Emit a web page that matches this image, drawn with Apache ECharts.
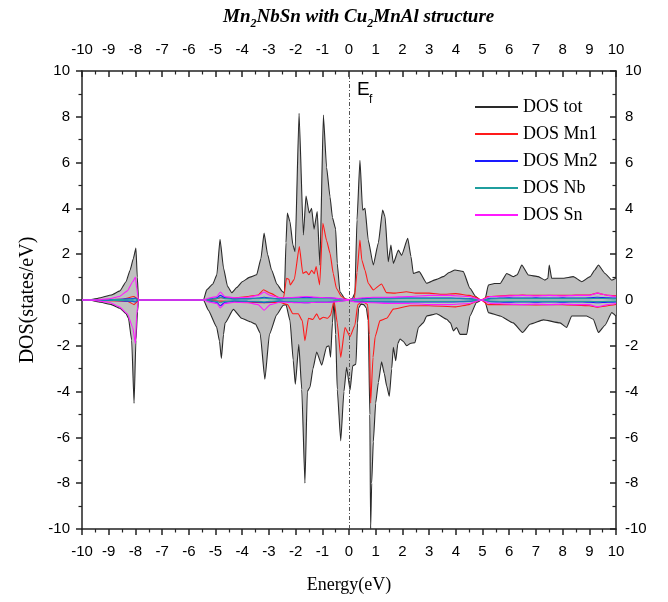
<!DOCTYPE html>
<html>
<head>
<meta charset="utf-8">
<script src="https://cdn.jsdelivr.net/npm/echarts@6/dist/echarts.min.js"></script>
<style>
  html, body { margin: 0; padding: 0; background: #fff; }
  #chart { width: 668px; height: 602px; }
</style>
</head>
<body>
<div id="chart"></div>
<script>
// total DOS, [energy (eV), states/eV], spin up above zero, spin down below
const totUp = [[-10,0],[-9.72,0],[-9.3,0.1],[-8.9,0.22],[-8.58,0.4],[-8.35,0.8],[-8.2,1.3],[-8.08,1.8],[-7.98,2.27],[-7.93,1.0],[-7.88,0],
  [-5.45,0],[-5.33,0.44],[-5.1,0.7],[-4.95,1.1],[-4.83,2.65],[-4.7,1.4],[-4.55,0.6],[-4.39,0.32],[-4.2,0.55],[-4.0,0.8],[-3.71,1.0],[-3.46,1.1],[-3.3,1.8],[-3.18,2.92],[-3.05,2.0],[-2.9,1.31],[-2.7,0.7],[-2.5,0.38],[-2.42,0.3],
  [-2.36,2.5],[-2.31,3.8],[-2.21,3.42],[-2.1,2.4],[-2.02,2.11],[-1.87,8.15],[-1.71,2.84],[-1.61,4.54],[-1.49,3.8],[-1.4,4.0],[-1.31,3.09],[-1.19,3.86],[-1.09,1.53],[-0.96,8.08],[-0.84,5.8],[-0.71,4.5],[-0.62,3.6],[-0.5,3.1],[-0.44,1.6],[-0.34,0.36],[-0.15,0.05],[0,0.02],
  [0.12,0.05],[0.22,0.3],[0.3,3.5],[0.41,6.1],[0.51,3.93],[0.6,4.0],[0.72,2.62],[0.91,1.53],[1.1,2.5],[1.26,3.93],[1.35,3.64],[1.47,1.67],[1.57,2.4],[1.66,1.6],[1.85,2.18],[1.97,1.95],[2.2,2.69],[2.32,1.9],[2.41,1.16],[2.63,1.24],[2.91,0.73],[3.28,0.9],[3.53,1.02],[3.75,1.2],[3.97,1.31],[4.28,1.24],[4.53,0.51],[4.75,0.15],[4.91,0],
  [5.09,0],[5.22,0.65],[5.45,0.72],[5.66,0.72],[5.91,1.16],[6.15,1.02],[6.3,1.1],[6.47,1.53],[6.72,1.09],[7.09,1.02],[7.34,0.87],[7.45,0.95],[7.5,1.53],[7.59,0.95],[8.03,0.95],[8.4,1.02],[8.72,0.8],[9.03,1.02],[9.2,1.3],[9.34,1.53],[9.59,1.16],[9.84,0.87],[10,0.95]];

const totDown = [[-10,0],[-9.72,0],[-9.3,-0.1],[-8.9,-0.2],[-8.58,-0.36],[-8.35,-0.6],[-8.26,-0.8],[-8.14,-1.75],[-8.05,-4.51],[-7.98,-1.75],[-7.92,-0.5],[-7.88,0],
  [-5.45,0],[-5.27,-0.44],[-4.96,-1.17],[-4.85,-1.8],[-4.78,-2.55],[-4.7,-1.5],[-4.64,-1.0],[-4.33,-0.41],[-4.02,-0.8],[-3.7,-0.95],[-3.5,-1.05],[-3.33,-1.44],[-3.15,-3.46],[-2.98,-1.5],[-2.71,-0.65],[-2.46,-0.23],[-2.36,-0.2],
  [-2.21,-0.9],[-2.09,-2.62],[-2.01,-3.68],[-1.88,-1.95],[-1.77,-3.9],[-1.65,-8.0],[-1.56,-4.0],[-1.46,-3.8],[-1.35,-3.0],[-1.21,-2.27],[-1.02,-2.85],[-0.84,-2.04],[-0.75,-2.0],[-0.69,-2.5],[-0.62,-1.0],[-0.56,-0.05],[-0.5,-1.5],[-0.44,-3.9],[-0.31,-6.15],[-0.19,-4.0],[-0.09,-2.94],
  [0.04,-3.93],[0.14,-2.87],[0.26,-2.8],[0.32,-1.0],[0.36,-0.35],[0.45,-0.18],[0.55,-0.2],[0.65,-0.35],[0.72,-0.9],[0.78,-5.0],[0.81,-10],[0.85,-8.0],[0.91,-6.2],[1.0,-4.5],[1.1,-3.6],[1.22,-2.7],[1.32,-3.2],[1.41,-3.75],[1.51,-4.2],[1.6,-3.0],[1.66,-2.07],[1.75,-2.65],[1.83,-1.9],[1.91,-1.7],
  [2.03,-1.8],[2.16,-2.0],[2.3,-1.9],[2.47,-1.86],[2.6,-1.2],[2.78,-1.0],[2.91,-0.7],[3.28,-0.6],[3.66,-0.84],[3.8,-1.0],[3.91,-1.35],[4.03,-1.2],[4.16,-1.5],[4.41,-1.5],[4.53,-0.7],[4.78,-0.1],[4.97,0],
  [5.1,-0.1],[5.22,-0.55],[5.66,-0.7],[6.15,-1.0],[6.5,-1.42],[6.78,-1.06],[7.28,-0.87],[7.9,-1.0],[8.15,-1.2],[8.34,-0.7],[8.9,-0.7],[9.15,-0.84],[9.34,-1.42],[9.59,-1.1],[9.84,-0.55],[10,-0.7]];

// Mn1 partial DOS
const mn1Up = [[-10,0],[-8.5,0.03],[-8.05,0.15],[-7.95,0.08],[-7.88,0],[-5.45,0],[-5.0,0.05],[-4.8,0.1],[-4.3,0.08],[-3.8,0.15],[-3.4,0.22],[-3.2,0.45],[-2.95,0.3],[-2.6,0.1],[-2.45,0.1],
  [-2.34,0.95],[-2.25,0.9],[-2.2,0.66],[-2.05,0.9],[-1.86,2.33],[-1.73,1.16],[-1.6,1.24],[-1.5,1.1],[-1.4,1.3],[-1.3,1.15],[-1.23,1.46],[-1.1,0.66],[-0.98,3.35],[-0.84,2.6],[-0.71,2.04],[-0.59,1.16],[-0.47,0.5],[-0.28,0.15],[-0.1,0.02],
  [0.2,0.05],[0.3,1.2],[0.41,2.62],[0.48,1.75],[0.6,1.3],[0.72,0.73],[0.91,0.44],[1.22,0.7],[1.4,0.32],[1.7,0.3],[2.15,0.36],[2.5,0.3],[3.0,0.3],[3.5,0.25],[4.0,0.28],[4.5,0.2],[4.8,0.1],[4.95,0],
  [5.2,0.15],[6,0.2],[6.5,0.22],[7,0.2],[7.5,0.2],[8,0.2],[8.5,0.22],[9,0.22],[9.3,0.3],[9.7,0.2],[10,0.18]];

const mn1Down = [[-10,0],[-8.3,-0.05],[-8.05,-0.2],[-7.95,-0.1],[-7.88,0],[-5.45,0],[-4.8,-0.05],[-3.2,-0.12],[-2.6,-0.1],[-2.3,-0.2],[-2.1,-0.6],[-1.9,-0.6],[-1.75,-0.9],[-1.65,-1.78],[-1.52,-0.8],[-1.35,-0.85],[-1.21,-0.6],[-1.1,-0.85],[-0.96,-0.75],[-0.8,-0.8],[-0.69,-0.66],[-0.56,-0.02],
  [-0.44,-1.0],[-0.31,-2.5],[-0.15,-1.2],[0.04,-1.6],[0.22,-1.1],[0.33,-0.2],[0.5,-0.05],[0.7,-0.2],[0.76,-1.5],[0.81,-4.5],[0.9,-2.5],[0.98,-1.6],[1.16,-0.9],[1.41,-0.8],[1.66,-0.4],[2.28,-0.25],[3,-0.25],[4,-0.3],[4.5,-0.2],[4.8,-0.05],[4.95,0],
  [5.2,-0.2],[6,-0.2],[7,-0.22],[8,-0.2],[9,-0.25],[9.3,-0.32],[9.7,-0.25],[10,-0.2]];

// smaller partials share one energy grid
const compE = [-10,-9.7,-9.0,-8.6,-8.3, -8.1,-8.0,-7.95,-7.88,-5.45, -5.2,-4.95,-4.82,-4.65,-4.3, -3.8,-3.4,-3.18,-2.95,-2.6,
  -2.3,-2.0,-1.6,-1.2,-0.8, -0.5,-0.2,0.0,0.2,0.5, 0.9,1.5,2.2,3.0,3.8, 4.5,4.95,5.3,6.0,6.5, 7.0,7.5,8.0,8.5,9.0, 9.3,9.7,10];
const mn2Up = [0,0,0.02,0.03,0.05, 0.06,0.08,0.04,0,0, 0.05,0.1,0.2,0.1,0.05, 0.06,0.08,0.12,0.08,0.05,
  0.08,0.1,0.12,0.1,0.1, 0.06,0.03,0.02,0.05,0.06, 0.08,0.08,0.08,0.08,0.08, 0.06,0,0.07,0.1,0.08, 0.1,0.08,0.1,0.08,0.1, 0.12,0.1,0.08];
const mn2Down = [0,0,-0.02,-0.03,-0.05, -0.06,-0.08,-0.04,0,0, -0.05,-0.1,-0.25,-0.1,-0.05, -0.06,-0.08,-0.12,-0.08,-0.05,
  -0.08,-0.1,-0.12,-0.1,-0.1, -0.06,-0.03,-0.02,-0.06,-0.08, -0.08,-0.08,-0.08,-0.08,-0.08, -0.06,0,-0.07,-0.1,-0.08, -0.1,-0.08,-0.1,-0.08,-0.1, -0.12,-0.1,-0.08];
const nbUp = [0,0,0.01,0.02,0.03, 0.04,0.05,0.03,0,0, 0.04,0.06,0.12,0.06,0.04, 0.05,0.06,0.08,0.06,0.04,
  0.05,0.05,0.05,0.05,0.05, 0.04,0.02,0.01,0.03,0.04, 0.05,0.05,0.06,0.06,0.06, 0.05,0,0.05,0.06,0.06, 0.06,0.06,0.06,0.06,0.06, 0.07,0.06,0.05];
const nbDown = [0,0,-0.01,-0.02,-0.03, -0.04,-0.05,-0.03,0,0, -0.04,-0.06,-0.12,-0.06,-0.04, -0.05,-0.06,-0.08,-0.06,-0.04,
  -0.05,-0.05,-0.05,-0.05,-0.05, -0.04,-0.02,-0.01,-0.03,-0.04, -0.05,-0.05,-0.06,-0.06,-0.06, -0.05,0,-0.05,-0.06,-0.06, -0.06,-0.06,-0.06,-0.06,-0.06, -0.07,-0.06,-0.05];
const snUp = [0,0,0.05,0.15,0.4, 0.8,1.0,0.5,0,0, 0.1,0.15,0.35,0.15,0.1, 0.12,0.2,0.35,0.2,0.1,
  0.1,0.12,0.15,0.12,0.1, 0.08,0.03,0.02,0.05,0.1, 0.12,0.12,0.15,0.2,0.2, 0.15,0,0.15,0.18,0.2, 0.18,0.2,0.18,0.2,0.2, 0.3,0.2,0.15];
const snDown = [0,0,-0.1,-0.3,-0.6, -1.2,-1.9,-0.6,0,0, -0.1,-0.15,-0.35,-0.15,-0.1, -0.12,-0.2,-0.45,-0.2,-0.1,
  -0.1,-0.12,-0.12,-0.1,-0.1, -0.08,-0.03,-0.02,-0.08,-0.1, -0.12,-0.15,-0.15,-0.2,-0.2, -0.15,0,-0.15,-0.18,-0.2, -0.18,-0.2,-0.18,-0.2,-0.2, -0.3,-0.2,-0.15];

const legendNames = ['DOS tot', 'DOS Mn1', 'DOS Mn2', 'DOS Nb', 'DOS Sn'];
const colors = ['#2a2a2a', '#ff1a1a', '#1a1aff', '#1f9e9e', '#ff1aff'];

function zip(e, d) {
  return e.map((x, i) => [x, d[i]]);
}

function dosLine(name, data, color, area) {
  let s = {
    name: name,
    type: 'line',
    data: data,
    showSymbol: false,
    smooth: 0.15,
    smoothMonotone: 'x',
    color: color,
    lineStyle: { color: color, width: 1.1 },
    silent: true,
    animation: false
  };
  if (area) {
    s.areaStyle = { color: '#c0c0c0', opacity: 1 };
  }
  return s;
}

function frameAxis(pos, inside) {
  return {
    type: 'value',
    position: pos,
    min: -10,
    max: 10,
    axisLine: { show: true, onZero: false, lineStyle: { color: '#222', width: 1.5 } },
    axisTick: { show: true, inside: inside, length: 6, lineStyle: { color: '#222', width: 1.5 } },
    minorTick: { show: true, splitNumber: 2, length: 3.5, lineStyle: { color: '#222', width: 1.2 } },
    axisLabel: { fontFamily: 'Liberation Sans', fontSize: 15, color: '#000', margin: 12 },
    splitLine: { show: false }
  };
}

const chart = echarts.init(document.getElementById('chart'));

let xBottom = frameAxis('bottom', false);
xBottom.interval = 1;
xBottom.axisLabel.margin = 15;
xBottom.name = 'Energy(eV)';
xBottom.nameLocation = 'middle';
xBottom.nameGap = 47;
xBottom.nameTextStyle = { fontFamily: 'Liberation Serif', fontSize: 18, color: '#000' };
let xTop = frameAxis('top', true);
xTop.interval = 1;
xTop.axisLabel.margin = 14;

let yLeft = frameAxis('left', false);
yLeft.interval = 2;
yLeft.name = 'DOS(states/eV)';
yLeft.nameLocation = 'middle';
yLeft.nameGap = 43;
yLeft.nameTextStyle = { fontFamily: 'Liberation Serif', fontSize: 20, color: '#000' };
let yRight = frameAxis('right', true);
yRight.interval = 2;
yRight.axisLabel.margin = 9;

let series = [
  dosLine('DOS tot', totUp, colors[0], true),
  dosLine('DOS tot', totDown, colors[0], true),
  dosLine('DOS Mn1', mn1Up, colors[1]),
  dosLine('DOS Mn1', mn1Down, colors[1]),
  dosLine('DOS Mn2', zip(compE, mn2Up), colors[2]),
  dosLine('DOS Mn2', zip(compE, mn2Down), colors[2]),
  dosLine('DOS Nb', zip(compE, nbUp), colors[3]),
  dosLine('DOS Nb', zip(compE, nbDown), colors[3]),
  dosLine('DOS Sn', zip(compE, snUp), colors[4]),
  dosLine('DOS Sn', zip(compE, snDown), colors[4])
];

// Fermi level
series[1].markLine = {
  silent: true,
  symbol: 'none',
  label: { show: false },
  lineStyle: { color: '#555', width: 1, type: [4, 2, 1, 2] },
  data: [{ xAxis: 0 }]
};

const option = {
  backgroundColor: '#fff',
  animation: false,
  title: {
    text: '{a|Mn}{s|2}{a|NbSn with Cu}{s|2}{a|MnAl structure}',
    left: 218,
    top: 0,
    textStyle: {
      rich: {
        a: { fontFamily: 'Liberation Serif', fontStyle: 'italic', fontWeight: 'bold', fontSize: 19, color: '#000', lineHeight: 25 },
        s: { fontFamily: 'Liberation Serif', fontStyle: 'italic', fontWeight: 'bold', fontSize: 12, color: '#000', lineHeight: 12, verticalAlign: 'bottom' }
      }
    }
  },
  legend: {
    orient: 'vertical',
    left: 470,
    top: 92,
    itemWidth: 43,
    itemHeight: 2,
    itemGap: 7,
    icon: 'rect',
    selectedMode: false,
    textStyle: { fontFamily: 'Liberation Serif', fontSize: 18, color: '#000', lineHeight: 20 },
    data: legendNames.map((n, i) => ({ name: n, itemStyle: { color: colors[i] } }))
  },
  grid: { left: 82, right: 52, top: 71, bottom: 73 },
  xAxis: [xBottom, xTop],
  yAxis: [yLeft, yRight],
  graphic: [
    { type: 'text', left: 357, top: 80, style: { text: 'E', font: '19px "Liberation Sans"', fill: '#000' } },
    { type: 'text', left: 369, top: 94, style: { text: 'f', font: '12px "Liberation Sans"', fill: '#000' } }
  ],
  series: series
};

chart.setOption(option);
</script>
</body>
</html>
